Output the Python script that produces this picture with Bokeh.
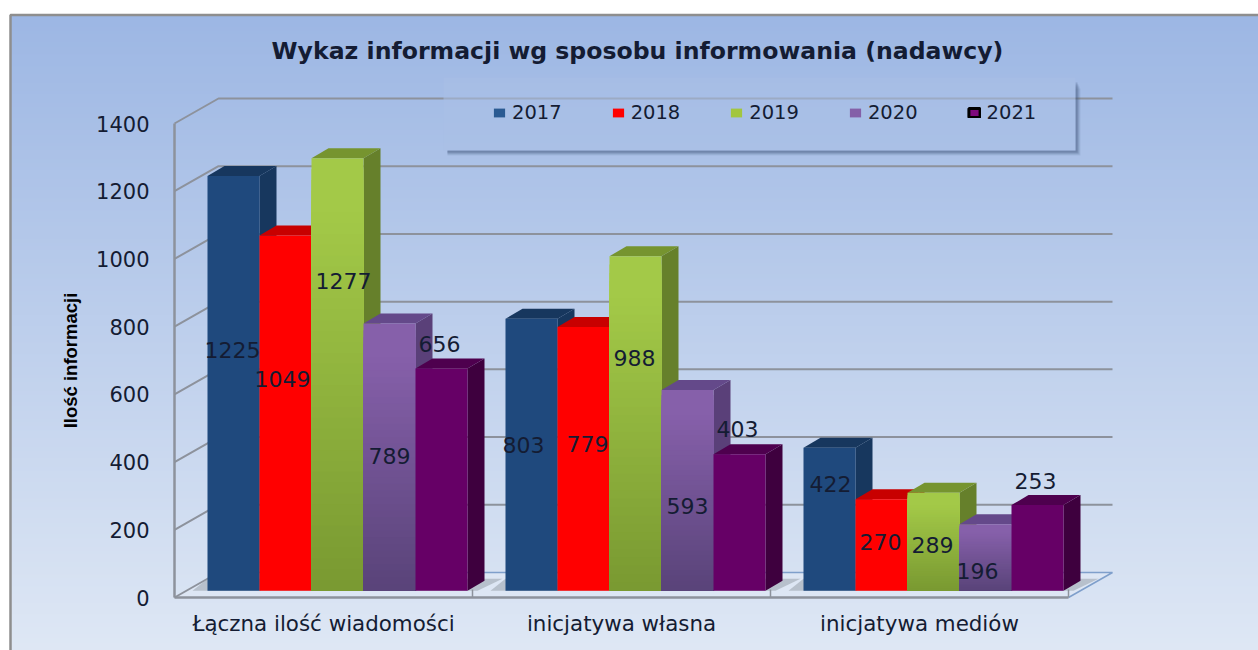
from bokeh.plotting import figure
from bokeh.embed import file_html
from bokeh.resources import INLINE
from bokeh.models import Range1d, FixedTicker, Legend, LegendItem, Label
from bokeh.core.properties import value
import numpy as np

# ---------- data ----------
categories = ["Łączna ilość wiadomości", "inicjatywa własna", "inicjatywa mediów"]
years = ["2017", "2018", "2019", "2020", "2021"]
v2017 = [1225, 803, 422]
v2018 = [1049, 779, 270]
v2019 = [1277, 988, 289]
v2020 = [789, 593, 196]
v2021 = [656, 403, 253]
series = [v2017, v2018, v2019, v2020, v2021]
y_ticks = [0, 200, 400, 600, 800, 1000, 1200, 1400]
title_text = "Wykaz informacji wg sposobu informowania (nadawcy)"
y_title = "Ilość informacji"

# ---------- layout (page pixels) ----------
W, H = 1258, 650
X0, Y0 = 174, 597           # front-wall origin
CAT_PX = 298
K = 474 / 1400              # px per unit
def X(px): return (np.asarray(px, float) - X0) / CAT_PX
def Y(py): return (Y0 - np.asarray(py, float)) / K
def DX(px): return float(px) / CAT_PX
def DY(px): return float(px) / K

WALL_DX, WALL_DY = DX(44), DY(25)
BAR_W = DX(52)
BAR_START = DX(33)
BASE = DY(6.8)
D_X, D_Y = DX(17), DY(10)

# ---------- style ----------
front = ["#1F497D", "#FF0000", None, None, "#660066"]
top_c = ["#17375E", "#C80000", "#76942F", "#64498A", "#4E004E"]
side_c = ["#17375E", "#C00000", "#66802B", "#5A4079", "#3E003E"]
grad = {2: ((163, 201, 72), (122, 154, 50)), 3: ((134, 96, 170), (90, 68, 122))}
swatch = ["#2A5A92", "#FF0000", "#A2C63F", "#8460A8", "#7D0A7D"]
TXT = "#141C33"
FONT = "DejaVu Sans"
def hexc(a, b, f):
    return ["#%02x%02x%02x" % tuple(int(v) for v in np.array(a) + (np.array(b) - np.array(a)) * x) for x in f]

p = figure(width=W, height=H, output_backend="svg", toolbar_location=None,
           x_range=Range1d(float(X(0)), float(X(W))),
           y_range=Range1d(float(Y(H)), float(Y(0))),
           min_border=0, min_border_left=0, min_border_right=0, min_border_top=0, min_border_bottom=0,
           outline_line_color=None, background_fill_color="white", border_fill_color="white")
p.grid.visible = False

# ---------- background gradient ----------
edges = np.arange(14, H, 4.0)
cols = hexc((157, 183, 228), (223, 232, 245), (edges - 14) / (650 - 14))
p.quad(left=float(X(10)), right=float(X(W)), top=Y(edges), bottom=float(Y(H)),
       fill_color=cols, line_color=None)
# outer frame
p.line(x=X([10, 10, W]), y=Y([H, 14.5, 14.5]), line_color="#8E8E8E", line_width=2.5)

# ---------- floor ----------
floor_x = [0, WALL_DX, 3 + WALL_DX, 3]
floor_y = [0, WALL_DY, WALL_DY, 0]
p.patch(x=floor_x, y=floor_y, fill_color="#DDE6F4", line_color=None)
p.line(x=[3, 3 + WALL_DX, WALL_DX], y=[0, WALL_DY, WALL_DY], line_color="#7F9FCB", line_width=1.5)

# ---------- walls / gridlines ----------
p.multi_line(xs=[[0, WALL_DX, 3 + WALL_DX] for _ in y_ticks[1:]],
             ys=[[v, v + WALL_DY, v + WALL_DY] for v in y_ticks[1:]],
             line_color="#8D929C", line_width=2)
p.line(x=[0, WALL_DX], y=[0, WALL_DY], line_color="#8D929C", line_width=2)

# ---------- floor shadows ----------
for g in range(3):
    x0 = g + BAR_START
    x1 = x0 + 5 * BAR_W
    p.patch(x=[x0 - DX(15), x0, x1 + D_X + DX(18), x1 + DX(10)],
            y=[BASE, BASE + D_Y + DY(2), BASE + D_Y + DY(2), BASE],
            fill_color="#9FA6B0", fill_alpha=0.6, line_color=None)

# ---------- bars ----------
for s, vals in enumerate(series):
    lefts = [g + BAR_START + s * BAR_W for g in range(3)]
    rights = [l + BAR_W for l in lefts]
    tops = [BASE + v for v in vals]
    p.patches(xs=[[r, r + D_X, r + D_X, r] for r in rights],
              ys=[[BASE, BASE + D_Y, t_ + D_Y, t_] for t_ in tops],
              fill_color=side_c[s], line_color=None)
    p.patches(xs=[[l, l + D_X, r + D_X, r] for l, r in zip(lefts, rights)],
              ys=[[t_, t_ + D_Y, t_ + D_Y, t_] for t_ in tops],
              fill_color=top_c[s], line_color=None)
    if s in grad:
        for l, r, t_ in zip(lefts, rights, tops):
            n = 40
            ed = np.linspace(t_, BASE, n, endpoint=False)
            fr = np.clip((np.linspace(0, 1, n) - 0.12) / 0.88, 0, 1)
            # each band runs down to the floor and the next one paints over it, so no seams show
            p.quad(left=l, right=r, top=ed, bottom=BASE, fill_color=hexc(grad[s][0], grad[s][1], fr),
                   line_color=None)
    else:
        p.quad(left=lefts, right=rights, top=tops, bottom=BASE, fill_color=front[s], line_color=None)

# ---------- data labels (placed where the reference puts them) ----------
label_px_x = [[232, 523, 830], [282, 587, 880], [343, 634, 932], [389, 687, 977], [439, 737, 1035]]
label_px_y = [[349.5, 444.5, 483.5], [378.5, 443.5, 541.5], [280.5, 357.5, 544.5],
              [455.5, 505.5, 570.5], [343.5, 428.5, 480.5]]
for s, vals in enumerate(series):
    p.text(x=X(label_px_x[s]), y=Y(label_px_y[s]), text=[str(v) for v in vals],
           text_font=value(FONT), text_font_size="22px", text_color=TXT,
           text_align="center", text_baseline="middle")

# ---------- legend panel ----------
for off, al in [(5, 0.10), (4, 0.14), (3, 0.2), (2, 0.25)]:
    p.quad(left=float(X(447)), right=float(X(1075 + off)), top=float(Y(150)), bottom=float(Y(150 + off)),
           fill_color="#3F5579", fill_alpha=al, line_color=None)
    p.quad(left=float(X(1075)), right=float(X(1075 + off)), top=float(Y(78 + off * 2)), bottom=float(Y(150)),
           fill_color="#3F5579", fill_alpha=al, line_color=None)
p.quad(left=float(X(443)), right=float(X(1075)), top=float(Y(77)), bottom=float(Y(150)),
       fill_color="#A9C0E6", fill_alpha=0.55, line_color=None)

# legend
items = []
for s, y_ in enumerate(years):
    lc = "#000000" if s == 4 else None
    r = p.quad(left=[np.nan], right=[np.nan], top=[np.nan], bottom=[np.nan], fill_color=swatch[s], line_color=lc,
               line_width=3 if s == 4 else 1)
    items.append(LegendItem(label=y_, renderers=[r]))
legend = Legend(items=items, orientation="horizontal", location=(492, 526),
                glyph_width=14, glyph_height=11, label_standoff=6, spacing=49, padding=0, margin=0,
                background_fill_alpha=0, border_line_color=None,
                label_text_font=FONT, label_text_font_size="19.5px", label_text_color=TXT)
p.add_layout(legend)

# ---------- title ----------
p.add_layout(Label(x=float(X(637)), y=float(Y(50)), text=title_text, text_font=FONT,
                   text_font_size="23.6px", text_font_style="bold", text_color=TXT,
                   text_align="center", text_baseline="middle"))

# ---------- axes ----------
ya = p.yaxis[0]
ya.fixed_location = 0
ya.bounds = (0, 1400)
ya.ticker = FixedTicker(ticks=y_ticks)
ya.axis_line_color = "#8D929C"
ya.axis_line_width = 2.5
ya.major_tick_line_color = None
ya.minor_tick_line_color = None
ya.major_label_standoff = 19
ya.major_label_text_font = FONT
ya.major_label_text_font_size = "21px"
ya.major_label_text_color = TXT
ya.axis_label = y_title
ya.axis_label_text_font = "Liberation Sans"
ya.axis_label_text_font_style = "bold"
ya.axis_label_text_font_size = "18.5px"
ya.axis_label_text_color = "#000000"
ya.axis_label_standoff = 12

xa = p.xaxis[0]
xa.fixed_location = 0
xa.bounds = (0, 3)
xa.ticker = FixedTicker(ticks=[0.5, 1.5, 2.5], minor_ticks=[1, 2, 3])
xa.major_label_overrides = {0.5: categories[0], 1.5: categories[1], 2.5: categories[2]}
xa.axis_line_color = "#8D929C"
xa.axis_line_width = 2.5
xa.major_tick_line_color = None
xa.minor_tick_line_color = "#8D929C"
xa.minor_tick_line_width = 1.5
xa.minor_tick_in = 8
xa.minor_tick_out = 0
xa.major_label_standoff = 7
xa.major_label_text_font = FONT
xa.major_label_text_font_size = "21.4px"
xa.major_label_text_color = TXT

open("out.html", "w").write(file_html(p, INLINE))
